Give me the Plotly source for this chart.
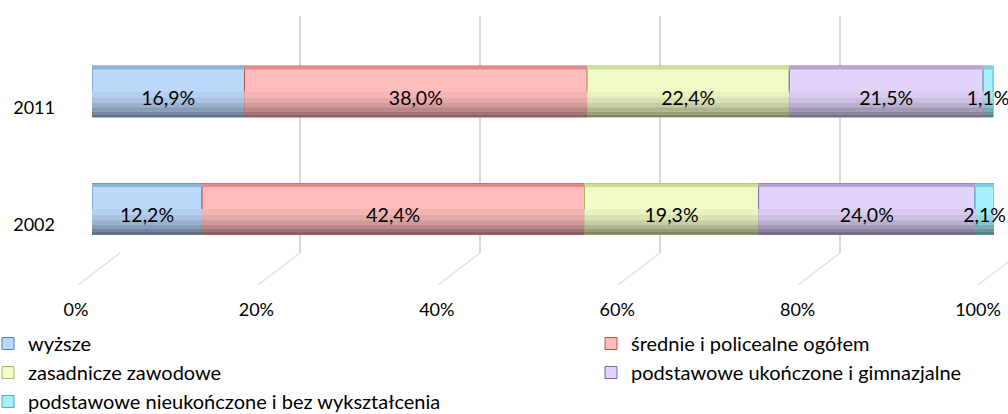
import plotly.graph_objects as go

# ---------------- data ----------------
years = ['2011', '2002']
series_names = ['wyższe', 'średnie i policealne ogółem', 'zasadnicze zawodowe',
                'podstawowe ukończone i gimnazjalne',
                'podstawowe nieukończone i bez wykształcenia']
v_wyzsze = [16.9, 12.2]
v_srednie = [38.0, 42.4]
v_zasadnicze = [22.4, 19.3]
v_podst_uk = [21.5, 24.0]
v_podst_nieuk = [1.1, 2.1]
x_tick_vals = [0, 20, 40, 60, 80, 100]
x_tick_text = ['0%', '20%', '40%', '60%', '80%', '100%']

# ---------------- styles ----------------
fills = ['#bcd8fb', '#ffbcbc', '#f2fbc8', '#e2d4fa', '#a8f0fb']
borders = ['#4f81bd', '#c0504d', '#9bbb59', '#8064a2', '#4bacc6']
legend_of = ['legend', 'legend2', 'legend', 'legend2', 'legend']
FONT = 'Lato'
FS_TICK = 18
FS_LABEL = 19.5
FS_LEG = 20
W = 0.434           # bar thickness (category units)
TXT_SHIFT = 0.05    # data labels slightly below centre

W_PX, H_PX = 1008, 414


def hex2rgb(h):
    h = h.lstrip('#')
    return [int(h[i:i + 2], 16) for i in (0, 2, 4)]


def rgb(c):
    return 'rgb(%d,%d,%d)' % tuple(max(0, min(255, round(v))) for v in c)


def shade(h, f):
    return rgb([v * f for v in hex2rgb(h)])


def mix(a, b, t):
    ca, cb = hex2rgb(a), hex2rgb(b)
    return rgb([ca[i] * (1 - t) + cb[i] * t for i in range(3)])


# bands from top (0) to bottom (1) of the bar: (start, end, colour function)
bands = [
    (0.00, 0.07, lambda f, b: mix(f, b, 0.45)),
    (0.50, 0.62, lambda f, b: shade(f, 0.96)),
    (0.62, 0.72, lambda f, b: shade(f, 0.90)),
    (0.72, 0.81, lambda f, b: shade(f, 0.82)),
    (0.81, 0.89, lambda f, b: shade(f, 0.72)),
    (0.89, 0.95, lambda f, b: shade(f, 0.62)),
    (0.95, 1.00, lambda f, b: shade(f, 0.52)),
]

values = [v_wyzsze, v_srednie, v_zasadnicze, v_podst_uk, v_podst_nieuk]
bases = []
cum = [0.0] * len(years)
for vals in values:
    bases.append(list(cum))
    cum = [c + v for c, v in zip(cum, vals)]

fig = go.Figure()

# empty trace on the back-wall grid axis (drawn first, i.e. behind the bars)
fig.add_trace(go.Scatter(x=[], y=[], xaxis='x', yaxis='y', showlegend=False,
                         hoverinfo='skip'))

# main bars (legend entries)
for name, vals, base, fc, bc, lg in zip(series_names, values, bases, fills, borders, legend_of):
    fig.add_trace(go.Bar(
        y=years, x=vals, base=base, orientation='h', name=name, legend=lg,
        width=W, marker=dict(color=fc, line=dict(color=bc, width=1)),
        hoverinfo='skip', xaxis='x2', yaxis='y'))

# shading bands
for vals, base, fc, bc in zip(values, bases, fills, borders):
    for a, b, fn in bands:
        fig.add_trace(go.Bar(
            y=years, x=vals, base=base, orientation='h', showlegend=False,
            width=(b - a) * W, offset=W / 2 - b * W,
            marker=dict(color=fn(fc, bc), line=dict(width=0)),
            hoverinfo='skip', xaxis='x2', yaxis='y'))

# data labels
for vals, base in zip(values, bases):
    fig.add_trace(go.Bar(
        y=years, x=vals, base=base, orientation='h', showlegend=False,
        width=W, offset=-W / 2 - TXT_SHIFT,
        marker=dict(color='rgba(0,0,0,0)', line=dict(width=0)),
        text=[('%.1f' % v).replace('.', ',') + '%' for v in vals],
        textposition='inside', insidetextanchor='middle', textangle=0,
        insidetextfont=dict(family=FONT, size=FS_LABEL, color='#000000'),
        cliponaxis=False, hoverinfo='skip', xaxis='x2', yaxis='y'))

# 3D floor lines of the back wall grid
GRID_X0, GRID_STEP, GRID_TOP, GRID_BOT = 120, 180, 16, 253
shapes = []
for k in range(6):
    gx = GRID_X0 + GRID_STEP * k
    shapes.append(dict(type='line', xref='paper', yref='paper', layer='below',
                       x0=gx / W_PX, y0=1 - GRID_BOT / H_PX,
                       x1=(gx - 42) / W_PX, y1=1 - 285 / H_PX,
                       line=dict(color='#e2e2e2', width=1.5)))

LEG_TOP = 1 - 324 / H_PX
leg_common = dict(orientation='v', xanchor='left', y=LEG_TOP, yanchor='top',
                  traceorder='normal', font=dict(family=FONT, size=FS_LEG),
                  bgcolor='rgba(0,0,0,0)', tracegroupgap=0)

grid_px_per_unit = GRID_STEP / 20.0
fig.update_layout(
    width=W_PX, height=H_PX,
    margin=dict(l=0, r=0, t=0, b=0, autoexpand=False),
    paper_bgcolor='white', plot_bgcolor='rgba(0,0,0,0)',
    barmode='overlay',
    font=dict(family=FONT, size=FS_TICK, color='#000000'),
    uniformtext=dict(mode='show', minsize=FS_LABEL),
    xaxis=dict(domain=[GRID_X0 / W_PX, 1.0],
               range=[0, (W_PX - GRID_X0) / grid_px_per_unit],
               dtick=20, tick0=0, showgrid=True, gridcolor='#d9d9d9', gridwidth=2,
               zeroline=False, showline=False, showticklabels=False, ticks='',
               automargin=False, anchor='y'),
    xaxis2=dict(domain=[92 / W_PX, 994 / W_PX], range=[0, 100],
                tickvals=x_tick_vals, ticktext=x_tick_text,
                showgrid=False, zeroline=False, showline=False, ticks='',
                ticklabelshift=-16, ticklabelstandoff=44, automargin=False,
                tickfont=dict(family=FONT, size=FS_TICK), anchor='y'),
    yaxis=dict(domain=[1 - GRID_BOT / H_PX, 1 - GRID_TOP / H_PX],
               type='category', categoryorder='array', categoryarray=['2002', '2011'],
               range=[-0.3745, 1.6426], anchor='x2',
               showgrid=False, zeroline=False, showline=False, ticks='',
               ticklabelshift=16, ticklabelstandoff=36, automargin=False,
               tickfont=dict(family=FONT, size=FS_TICK)),
    legend=dict(x=-12 / W_PX, **leg_common),
    legend2=dict(x=591 / W_PX, **leg_common),
    shapes=shapes,
    showlegend=True,
)

fig.write_html('out.html', config={'displayModeBar': False},
               post_script="document.body.style.margin='0';")
